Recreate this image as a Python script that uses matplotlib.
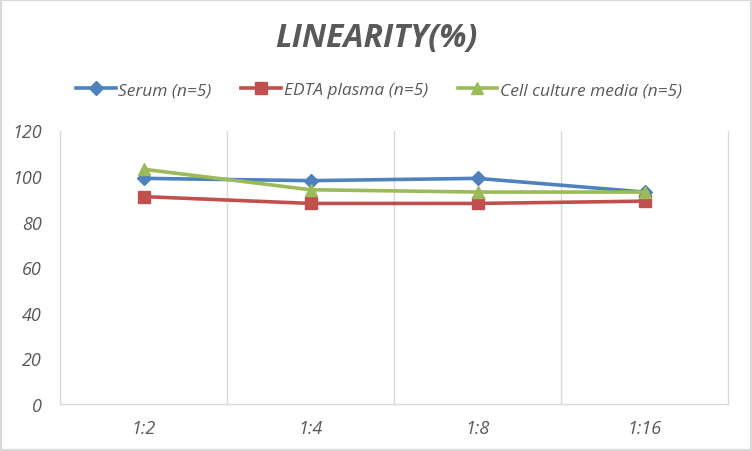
import matplotlib
matplotlib.use("Agg")
import matplotlib.pyplot as plt
from matplotlib.patches import Rectangle

categories = ["1:2", "1:4", "1:8", "1:16"]
serum = [99, 98, 99, 93]
edta = [91, 88, 88, 89]
cell = [103, 94, 93, 93]
series_names = ["Serum (n=5)", "EDTA plasma (n=5)", "Cell culture media (n=5)"]
y_ticks = [0, 20, 40, 60, 80, 100, 120]

fig = plt.figure(figsize=(7.52, 4.52), dpi=100)
ax = fig.add_axes([60/752, (452-405)/452, (728-60)/752, (405-131.5)/452])

x = list(range(len(categories)))
ax.plot(x, serum, color="#4F81BD", lw=2.6, marker="D", ms=7.5, label=series_names[0])
ax.plot(x, edta, color="#C0504D", lw=2.6, marker="s", ms=9, label=series_names[1])
ax.plot(x, cell, color="#9BBB59", lw=2.6, marker="^", ms=9, label=series_names[2])

ax.set_xlim(-0.5, len(categories) - 0.5)
ax.set_ylim(0, 120)
ax.set_yticks(y_ticks)
ax.set_xticks(x)
ax.set_xticklabels(categories)
for b in [0.5, 1.5, 2.5]:
    ax.axvline(b, color="#D9D9D9", lw=1, zorder=0)
ax.spines["top"].set_visible(False)
for s in ["left", "right", "bottom"]:
    ax.spines[s].set_color("#D9D9D9")
    ax.spines[s].set_linewidth(1)
ax.tick_params(length=0, colors="#595959", labelsize=13)
ax.tick_params(axis="y", pad=13)
ax.tick_params(axis="x", pad=11)
for t in ax.get_xticklabels() + ax.get_yticklabels():
    t.set_fontstyle("italic")
    t.set_family("Open Sans")

fig.text(0.5, 1 - 39/452, "LINEARITY(%)", ha="center", va="center", fontsize=23,
         fontweight="bold", fontstyle="italic", color="#595959", family="Open Sans")

leg = fig.legend(loc="center", bbox_to_anchor=(379/752, 1 - 91/452), ncol=3, frameon=False,
                 prop={"family": "Open Sans", "style": "italic", "size": 12.5},
                 handlelength=2.3, columnspacing=1.7, handletextpad=0.15)
for t in leg.get_texts():
    t.set_color("#595959")

fig.patches.append(Rectangle((0, 0), 1, 1, transform=fig.transFigure, fill=False,
                             edgecolor="#D9D9D9", lw=3))
fig.savefig("out.png", dpi=100)
